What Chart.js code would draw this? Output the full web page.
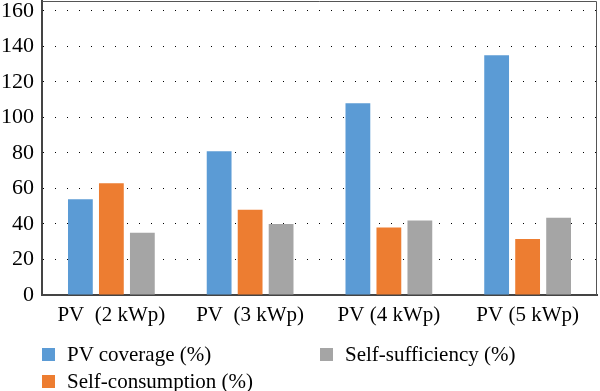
<!DOCTYPE html>
<html>
<head>
<meta charset="utf-8">
<script src="https://cdn.jsdelivr.net/npm/chart.js@4.4.0/dist/chart.umd.min.js"></script>
<style>
  html, body { margin: 0; padding: 0; background: #fff; }
  #wrap { position: relative; width: 600px; height: 391px; }
  #legend { position: absolute; left: 0; top: 0; width: 600px; height: 391px; pointer-events: none;
    font-family: "Liberation Serif", "DejaVu Serif", serif; font-size: 21px; color: #000; }
  .item { position: absolute; display: flex; align-items: center; white-space: nowrap; }
  .box { width: 13px; height: 13px; margin-right: 12px; }
</style>
</head>
<body>
<div id="wrap">
  <canvas id="barChart" width="600" height="391"></canvas>
  <div id="legend"></div>
</div>
<script>
  var categories = ["PV  (2 kWp)", "PV  (3 kWp)", "PV (4 kWp)", "PV (5 kWp)"];
  var pvCoverage = [54, 81, 108, 135];
  var selfConsumption = [63, 48, 38, 31.5];
  var selfSufficiency = [35, 40, 42, 43.5];
  var yTicks = [0, 20, 40, 60, 80, 100, 120, 140, 160];

  var serif = "'Liberation Serif', 'DejaVu Serif', serif";

  // top and right lines of the plot frame
  var framePlugin = {
    id: 'frame',
    afterDraw: function (chart) {
      var a = chart.chartArea, c = chart.ctx;
      c.save();
      c.strokeStyle = '#555';
      c.lineWidth = 1;
      c.beginPath();
      c.moveTo(a.left, a.top + 0.5);
      c.lineTo(a.right - 0.5, a.top + 0.5);
      c.lineTo(a.right - 0.5, a.bottom);
      c.stroke();
      c.restore();
    }
  };

  var ctx = document.getElementById("barChart").getContext('2d');
  var myBarChart = new Chart(ctx, {
    type: 'bar',
    data: {
      labels: categories,
      datasets: [{
          label: "PV coverage (%)",
          data: pvCoverage,
          backgroundColor: '#5B9BD5'
        },
        {
          label: "Self-consumption (%)",
          data: selfConsumption,
          backgroundColor: '#ED7D31'
        },
        {
          label: "Self-sufficiency (%)",
          data: selfSufficiency,
          backgroundColor: '#A5A5A5'
        }
      ]
    },
    options: {
      responsive: false,
      animation: false,
      datasets: { bar: { barPercentage: 0.8, categoryPercentage: 0.67 } },
      layout: { padding: { top: 1, right: 3, bottom: 61, left: 0 } },
      plugins: {
        legend: { display: false },
        tooltip: { enabled: false }
      },
      scales: {
        x: {
          grid: { display: false, drawTicks: false },
          border: { display: true, color: '#444', width: 2 },
          ticks: { color: '#000', padding: 8, maxRotation: 0, autoSkip: false,
                   font: { family: serif, size: 21 } },
          afterFit: function (axis) {
            axis.height = 35;
            axis.paddingLeft = 0; axis.paddingRight = 0;
          }
        },
        y: {
          min: 0,
          max: 165.6,
          afterBuildTicks: function (axis) {
            axis.ticks = yTicks.map(function (v) { return { value: v }; });
          },
          grid: { color: '#000', lineWidth: 1, drawTicks: false },
          border: { display: true, color: '#444', width: 2, dash: [1, 11] },
          ticks: { color: '#000', padding: 8, font: { family: serif, size: 22 } },
          afterFit: function (axis) {
            axis.width = 42;
            axis.paddingTop = 0; axis.paddingBottom = 0;
          }
        }
      }
    },
    plugins: [framePlugin]
  });

  // legend in two columns: blue, gray on first row; orange on second
  var ds = myBarChart.data.datasets;
  var legendSpots = [
    { i: 0, left: 42, top: 342 },
    { i: 2, left: 320, top: 342 },
    { i: 1, left: 42, top: 369 }
  ];
  var legend = document.getElementById('legend');
  legendSpots.forEach(function (s) {
    var item = document.createElement('div');
    item.className = 'item';
    item.style.left = s.left + 'px';
    item.style.top = s.top + 'px';
    var box = document.createElement('span');
    box.className = 'box';
    box.style.background = ds[s.i].backgroundColor;
    var txt = document.createElement('span');
    txt.textContent = ds[s.i].label;
    item.appendChild(box);
    item.appendChild(txt);
    legend.appendChild(item);
  });
</script>
</body>
</html>
